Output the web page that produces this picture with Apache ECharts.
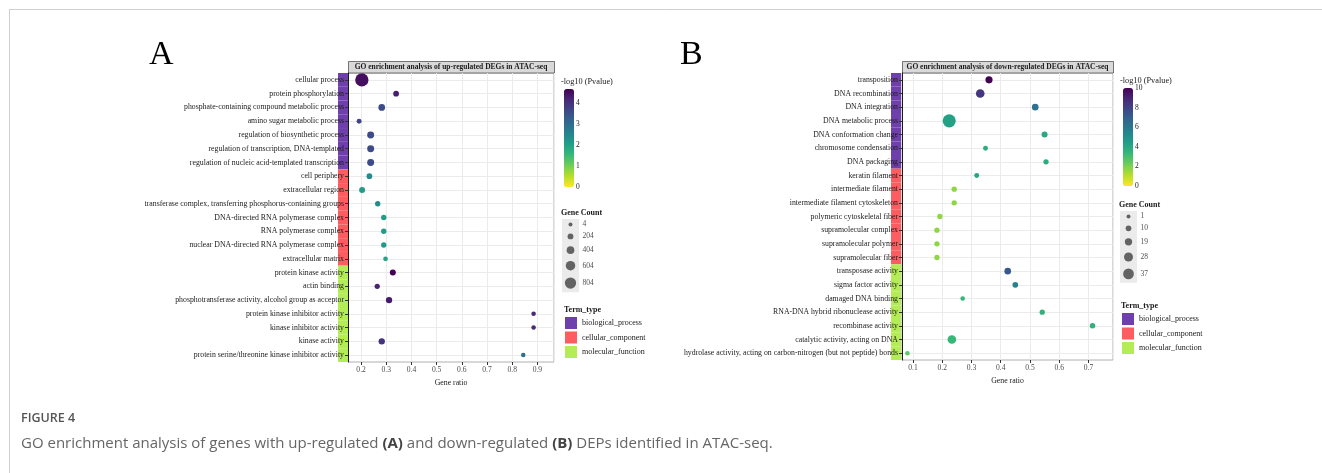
<!DOCTYPE html>
<html>
<head>
<meta charset="utf-8">
<title>GO enrichment analysis</title>
<script src="https://cdn.jsdelivr.net/npm/echarts@6/dist/echarts.min.js"></script>
<style>
  html, body { margin: 0; padding: 0; background: #fff; }
  #chart { width: 1322px; height: 473px; }
</style>
</head>
<body>
<div id="chart"></div>
<script>
// ==================== 数据 ====================

var typeNames = ['biological_process', 'cellular_component', 'molecular_function'];
var typeColors = ['#6f3fab', '#fd5c60', '#b3ec55'];

// A: up-regulated
var termsA = [
  'cellular process', 'protein phosphorylation', 'phosphate-containing compound metabolic process',
  'amino sugar metabolic process', 'regulation of biosynthetic process',
  'regulation of transcription, DNA-templated', 'regulation of nucleic acid-templated transcription',
  'cell periphery', 'extracellular region', 'transferase complex, transferring phosphorus-containing groups',
  'DNA-directed RNA polymerase complex', 'RNA polymerase complex', 'nuclear DNA-directed RNA polymerase complex',
  'extracellular matrix', 'protein kinase activity', 'actin binding',
  'phosphotransferase activity, alcohol group as acceptor', 'protein kinase inhibitor activity',
  'kinase inhibitor activity', 'kinase activity', 'protein serine/threonine kinase inhibitor activity'
];
var typesA = [0, 0, 0, 0, 0, 0, 0, 1, 1, 1, 1, 1, 1, 1, 2, 2, 2, 2, 2, 2, 2];
var ratioA = [0.203, 0.339, 0.282, 0.192, 0.238, 0.238, 0.238, 0.233, 0.204, 0.266, 0.29,
              0.29, 0.29, 0.297, 0.326, 0.264, 0.311, 0.885, 0.885, 0.282, 0.844];
var pvalA = [4.5, 4.3, 3.6, 3.7, 3.6, 3.6, 3.6, 2.4, 2.1, 2.4, 2.1,
             2.1, 2.1, 1.95, 4.67, 4.2, 4.35, 4.1, 4.1, 4.0, 3.0];
var countA = [1020, 190, 300, 110, 330, 330, 330, 190, 220, 150, 150,
              150, 150, 80, 220, 140, 260, 60, 60, 260, 60];
var countBreaksA = [4, 204, 404, 604, 804];
var pTicksA = [0, 1, 2, 3, 4];

// B: down-regulated
var termsB = [
  'transposition', 'DNA recombination', 'DNA integration', 'DNA metabolic process',
  'DNA conformation change', 'chromosome condensation', 'DNA packaging',
  'keratin filament', 'intermediate filament', 'intermediate filament cytoskeleton',
  'polymeric cytoskeletal fiber', 'supramolecular complex', 'supramolecular polymer', 'supramolecular fiber',
  'transposase activity', 'sigma factor activity', 'damaged DNA binding',
  'RNA-DNA hybrid ribonuclease activity', 'recombinase activity', 'catalytic activity, acting on DNA',
  'hydrolase activity, acting on carbon-nitrogen (but not peptide) bonds'
];
var typesB = [0, 0, 0, 0, 0, 0, 0, 1, 1, 1, 1, 1, 1, 1, 2, 2, 2, 2, 2, 2, 2];
var ratioB = [0.36, 0.33, 0.518, 0.224, 0.55, 0.348, 0.555, 0.318, 0.241, 0.241, 0.192,
              0.182, 0.182, 0.182, 0.424, 0.45, 0.27, 0.542, 0.714, 0.233, 0.081];
var pvalB = [10, 8.4, 6.3, 4.3, 4.0, 3.8, 3.8, 4.1, 1.7, 1.7, 1.7,
             1.7, 1.7, 1.7, 7.2, 5.5, 3.4, 3.6, 3.6, 3.3, 2.5];
var countB = [18, 26, 15, 50, 12, 6, 8, 6, 8, 8, 8,
              8, 8, 8, 15, 10, 4, 8, 9, 26, 4];
var countBreaksB = [1, 10, 19, 28, 37];
var pTicksB = [0, 2, 4, 6, 8, 10];

// ==================== 样式常量 ====================

var SERIF = '"Liberation Serif", "Times New Roman", serif';
var SANS = '"Open Sans", "Noto Sans", sans-serif';
var VIRIDIS_REV = ['#fde725', '#b5de2b', '#6ece58', '#35b779', '#1f9e89',
                   '#26828e', '#31688e', '#3e4989', '#482878', '#440154'];
var KEY_PAD = 7;

function sizeA(c) { return 4 + (c - 4) * 7.3 / 800; }
function sizeB(c) { return 4 + (c - 1) * 6.7 / 36; }

// ==================== 组装 ====================

var grids = [], xAxes = [], yAxes = [], series = [], visualMaps = [], legends = [], graphics = [];

function keyLayout(breaks, sizeFn) {
  var y = 0, centers = [];
  breaks.forEach(function (c) {
    var h = sizeFn(c) + KEY_PAD;
    centers.push(y + h / 2);
    y += h;
  });
  return { centers: centers, total: y };
}

function buildPanel(p) {
  var g = grids.length;

  // --- 主散点图 ---
  grids.push({ left: p.main[0], top: p.main[1], width: p.main[2], height: p.main[3],
    show: true, borderColor: '#b0b0b0', borderWidth: 1, backgroundColor: '#fff' });
  xAxes.push({
    gridIndex: g, type: 'value', min: p.xMin, max: p.xMax, splitNumber: p.splitNumber,
    axisLine: { show: false },
    axisTick: { show: true, length: 3, lineStyle: { color: '#333' } },
    axisLabel: { showMinLabel: false, showMaxLabel: false, fontFamily: SERIF, fontSize: 7.6,
      color: '#4d4d4d', margin: 4 },
    splitLine: { show: true, lineStyle: { color: '#ebebeb', width: 1 } },
    name: 'Gene ratio', nameLocation: 'middle', nameGap: 16,
    nameTextStyle: { fontFamily: SERIF, fontSize: 7.8, color: '#1a1a1a' }
  });
  yAxes.push({
    gridIndex: g, type: 'category', data: p.terms, inverse: true, z: 3,
    axisLine: { show: true, lineStyle: { color: '#1a1a1a', width: 1 } },
    axisTick: { show: true, alignWithLabel: true, length: 3, lineStyle: { color: '#333' } },
    axisLabel: { fontFamily: SERIF, fontSize: 7.8, color: '#1a1a1a', margin: 4 },
    splitLine: { show: true, alignWithLabel: true, lineStyle: { color: '#ebebeb', width: 1 } }
  });
  var scatterIndex = series.length;
  series.push({
    type: 'scatter', xAxisIndex: g, yAxisIndex: g, silent: true, z: 4,
    data: p.terms.map(function (t, i) { return [p.ratio[i], t, p.pval[i], p.count[i]]; }),
    symbolSize: function (v) { return p.sizeFn(v[3]); },
    itemStyle: { opacity: 1 }
  });

  // --- Term_type 色条 ---
  grids.push({ left: p.strip[0], top: p.main[1], width: p.strip[1], height: p.main[3] });
  xAxes.push({ gridIndex: g + 1, type: 'value', min: 0, max: 1, show: false });
  yAxes.push({ gridIndex: g + 1, type: 'category', data: p.terms, inverse: true, show: false });
  typeNames.forEach(function (name, k) {
    series.push({
      type: 'bar', name: name, xAxisIndex: g + 1, yAxisIndex: g + 1, stack: p.id + 'strip',
      barWidth: '100%', silent: true, z: 1,
      itemStyle: { color: typeColors[k] },
      data: p.types.map(function (tp) { return tp === k ? 1 : '-'; })
    });
  });

  // --- 颜色条刻度 ---
  grids.push({ left: p.bar[0], top: p.bar[1], width: p.bar[2], height: p.bar[3] });
  xAxes.push({ gridIndex: g + 2, type: 'value', show: false, min: 0, max: 1 });
  yAxes.push({
    gridIndex: g + 2, type: 'value', position: 'right', min: 0, max: p.pMax,
    interval: p.pTicks[1] - p.pTicks[0],
    axisLine: { show: false }, splitLine: { show: false },
    axisTick: { show: true, inside: true, length: 2, lineStyle: { color: '#fff' } },
    axisLabel: { showMaxLabel: p.pMax === p.pTicks[p.pTicks.length - 1], fontFamily: SERIF,
      fontSize: 7.5, color: '#1a1a1a', margin: 2 }
  });
  visualMaps.push({
    type: 'continuous', seriesIndex: scatterIndex, dimension: 2, min: 0, max: p.pMax,
    inRange: { color: VIRIDIS_REV }, left: p.bar[0], top: p.bar[1],
    itemWidth: p.bar[2], itemHeight: p.bar[3], calculable: false, padding: 0, text: null,
    orient: 'vertical', hoverLink: false
  });
  graphics.push({ type: 'text', left: p.bar[0] - 3, top: p.bar[1] - 11,
    style: { text: '-log10 (Pvalue)', font: '8.3px ' + SERIF, fill: '#1a1a1a' } });

  // --- Gene Count 图例 ---
  var kl = keyLayout(p.breaks, p.sizeFn);
  grids.push({ left: p.key[0], top: p.key[1], width: p.key[2], height: kl.total,
    show: true, backgroundColor: '#ebebeb', borderWidth: 0 });
  xAxes.push({ gridIndex: g + 3, type: 'value', min: 0, max: 1, show: false });
  yAxes.push({ gridIndex: g + 3, type: 'value', min: 0, max: kl.total, inverse: true, show: false });
  series.push({
    type: 'scatter', xAxisIndex: g + 3, yAxisIndex: g + 3, silent: true, z: 4,
    data: p.breaks.map(function (c, i) { return [0.5, kl.centers[i], c]; }),
    symbolSize: function (v) { return p.sizeFn(v[2]); },
    itemStyle: { color: '#636363', opacity: 1 }
  });
  series.push({
    type: 'scatter', xAxisIndex: g + 3, yAxisIndex: g + 3, silent: true, clip: false,
    data: p.breaks.map(function (c, i) { return [1, kl.centers[i], c]; }),
    symbolSize: 1, itemStyle: { color: 'rgba(0,0,0,0)' },
    label: { show: true, position: 'right', distance: 3, fontFamily: SERIF, fontSize: 7.5,
      color: '#1a1a1a', formatter: function (q) { return String(q.value[2]); } }
  });
  graphics.push({ type: 'text', left: p.key[0] - 1, top: p.key[1] - 10,
    style: { text: 'Gene Count', font: 'bold 8px ' + SERIF, fill: '#1a1a1a' } });

  // --- Term_type 图例 ---
  legends.push({
    data: typeNames, left: p.leg[0], top: p.leg[1], orient: 'vertical', icon: 'rect',
    itemWidth: 12, itemHeight: 12, itemGap: 2.5, padding: 0, selectedMode: false,
    textStyle: { fontFamily: SERIF, fontSize: 8, color: '#1a1a1a' }
  });
  graphics.push({ type: 'text', left: p.leg[0] - 1, top: p.leg[1] - 11,
    style: { text: 'Term_type', font: 'bold 8px ' + SERIF, fill: '#1a1a1a' } });

  // --- 标题条与面板字母 ---
  graphics.push({ type: 'rect', shape: { x: p.main[0] + 0.5, y: 61.5, width: p.main[2], height: 11.5 },
    style: { fill: '#d9d9d9', stroke: '#555', lineWidth: 0.8 } });
  graphics.push({ type: 'text', x: p.main[0] + p.main[2] / 2, y: 67.5,
    style: { text: p.title, font: 'bold 7.5px ' + SERIF, fill: '#1a1a1a', align: 'center', verticalAlign: 'middle' } });
  graphics.push({ type: 'text', left: p.letter[0], top: p.letter[1],
    style: { text: p.id, font: '34px ' + SERIF, fill: '#000' } });
}

buildPanel({
  id: 'A', title: 'GO enrichment analysis of up-regulated DEGs in ATAC-seq',
  terms: termsA, types: typesA, ratio: ratioA, pval: pvalA, count: countA,
  xMin: 0.148, xMax: 0.966, splitNumber: 8, pMax: 4.67, pTicks: pTicksA,
  sizeFn: sizeA, breaks: countBreaksA,
  main: [348, 73, 206, 289], strip: [338, 10], bar: [564, 89, 10, 98],
  key: [562, 219, 17], leg: [565, 317], letter: [149, 38]
});

buildPanel({
  id: 'B', title: 'GO enrichment analysis of down-regulated DEGs in ATAC-seq',
  terms: termsB, types: typesB, ratio: ratioB, pval: pvalB, count: countB,
  xMin: 0.0625, xMax: 0.784, splitNumber: 7, pMax: 10, pTicks: pTicksB,
  sizeFn: sizeB, breaks: countBreaksB,
  main: [902, 73, 211, 287], strip: [891, 10], bar: [1123, 88, 10, 98],
  key: [1120, 211, 17], leg: [1122, 313], letter: [680, 38]
});

// ==================== 图框与图注 ====================

graphics.push({ type: 'line', shape: { x1: 9, y1: 9.5, x2: 1322, y2: 9.5 },
  style: { stroke: '#cfcfcf', lineWidth: 1 } });
graphics.push({ type: 'line', shape: { x1: 9.5, y1: 9, x2: 9.5, y2: 473 },
  style: { stroke: '#cfcfcf', lineWidth: 1 } });
graphics.push({ type: 'text', left: 21, top: 412,
  style: { text: 'FIGURE 4', font: '600 12.5px ' + SANS, fill: '#555' } });
graphics.push({ type: 'text', left: 21, top: 436,
  style: {
    text: 'GO enrichment analysis of genes with up-regulated {b|(A)} and down-regulated {b|(B)} DEPs identified in ATAC-seq.',
    font: '15px ' + SANS, fill: '#666',
    rich: { b: { fontWeight: 'bold', fontSize: 15, fontFamily: SANS, fill: '#444' } }
  } });

var chart = echarts.init(document.getElementById('chart'), null, { renderer: 'canvas' });
chart.setOption({
  animation: false,
  backgroundColor: '#fff',
  grid: grids,
  xAxis: xAxes,
  yAxis: yAxes,
  visualMap: visualMaps,
  legend: legends,
  series: series,
  graphic: graphics
});
window.addEventListener('resize', function () { chart.resize(); });
</script>
</body>
</html>
